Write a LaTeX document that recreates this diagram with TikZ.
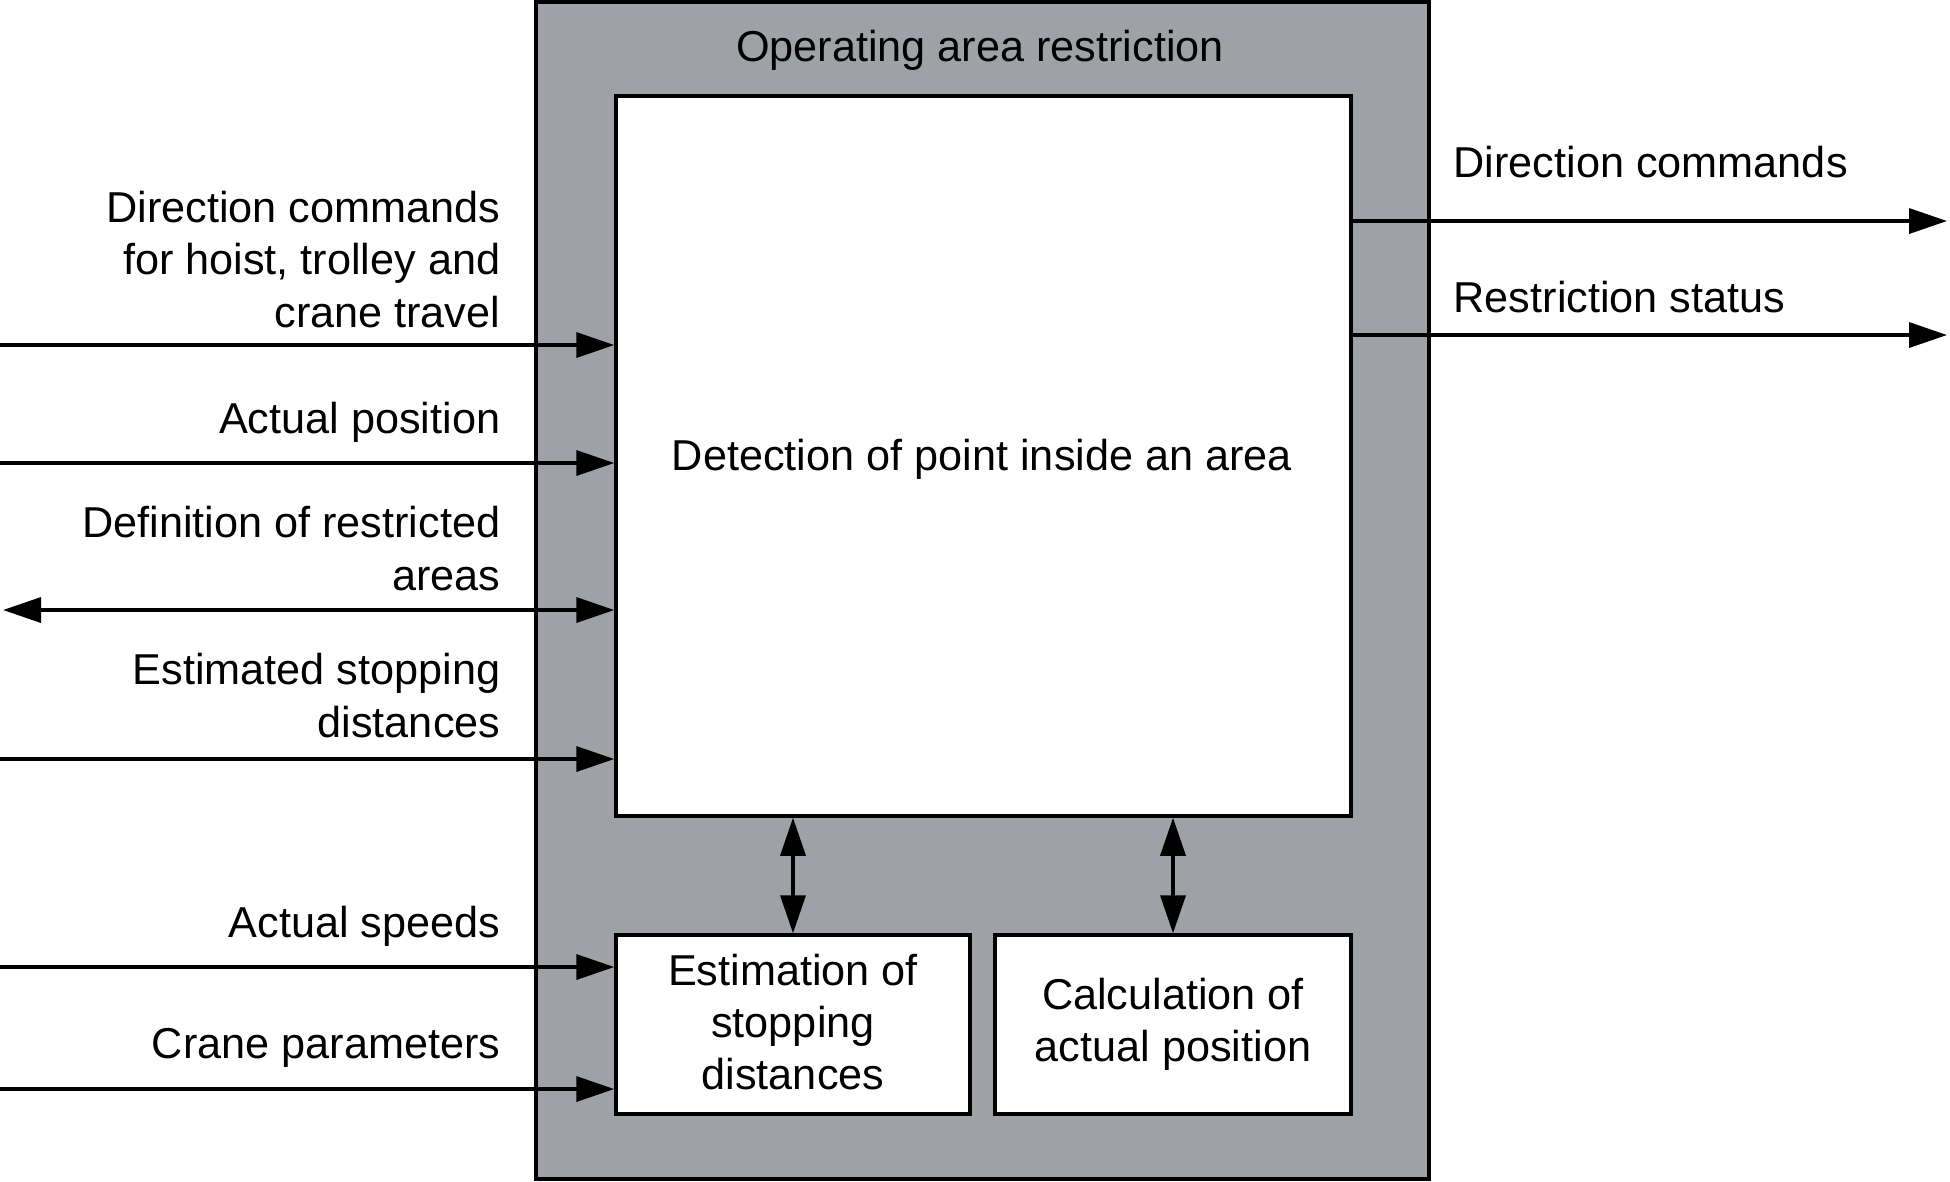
\documentclass[tikz,border=0pt]{standalone}
\usepackage{fontspec}
\setmainfont{Liberation Sans}
\usepackage{xcolor}
\usetikzlibrary{arrows.meta, positioning, calc}
\definecolor{areagray}{RGB}{158,161,166}
\tikzset{
	every node/.style={
		align=center,
		font=\fontsize{12.3pt}{14.9pt}\selectfont,
	},
}
\tikzstyle{block} = [draw, line width=1pt, fill=white, inner sep=0pt]
\tikzstyle{sig} = [line width=1pt, -{Triangle[length=3.8mm,width=2.5mm]}]
\tikzstyle{sigboth} = [line width=1pt, {Triangle[length=3.8mm,width=2.5mm]}-{Triangle[length=3.8mm,width=2.5mm]}]
\tikzstyle{inlabel} = [anchor=base east, inner sep=0pt, align=right]
\tikzstyle{outlabel} = [anchor=base west, inner sep=0pt, align=left]

\begin{document}
\begin{tikzpicture}[x=0.1mm, y=-0.1mm]
        \useasboundingbox (0,0) rectangle (1950,1181);
        % blocks
        \node[block, fill=areagray, minimum width=89.3mm, minimum height=117.7mm] (outer) at (982.5,590.5) {};
        \node[anchor=base, inner sep=0pt] (title) at (980,61) {Operating area restriction};
        \node[block, minimum width=73.5mm, minimum height=72mm] (detect) at (983.5,456) {};
        \node[inner sep=0pt] (detecttxt) at (982,459) {Detection of point inside an area};
        \node[block, minimum width=35.4mm, minimum height=17.9mm] (stopest) at (793,1024.5) {};
        \node[inner sep=0pt] (stopesttxt) at (793,1022) {Estimation of\\stopping\\distances};
        \node[block, minimum width=35.6mm, minimum height=17.9mm] (poscalc) at (1173,1024.5) {Calculation of\\actual position};
        \draw[sigboth] (stopest.north) -- (stopest.north |- detect.south);
        \draw[sigboth] (poscalc.north) -- (poscalc.north |- detect.south);
        % inputs
        \coordinate (dirin) at (0,345);
        \coordinate (posin) at (0,463);
        \coordinate (areain) at (3,610);
        \coordinate (distin) at (0,759);
        \coordinate (speedin) at (0,967);
        \coordinate (parin) at (0,1089);
        \draw[sig] (dirin) -- (dirin -| detect.west);
        \draw[sig] (posin) -- (posin -| detect.west);
        \draw[sigboth] (areain) -- (areain -| detect.west);
        \draw[sig] (distin) -- (distin -| detect.west);
        \draw[sig] (speedin) -- (speedin -| stopest.west);
        \draw[sig] (parin) -- (parin -| stopest.west);
        \node[inlabel] (dirlbl) at (501,327) {Direction commands\\for hoist, trolley and\\crane travel};
        \node[inlabel] (poslbl) at (501,433) {Actual position};
        \node[inlabel] (arealbl) at (501,590) {Definition of restricted\\areas};
        \node[inlabel] (distlbl) at (501,737) {Estimated stopping\\distances};
        \node[inlabel] (speedlbl) at (501,937) {Actual speeds};
        \node[inlabel] (parlbl) at (501,1058) {Crane parameters};
        % outputs
        \coordinate (dirout) at (1947,221);
        \coordinate (statout) at (1947,335);
        \draw[sig] (dirout -| detect.east) -- (dirout);
        \draw[sig] (statout -| detect.east) -- (statout);
        \node[outlabel] (dirolbl) at (1453,177) {Direction commands};
        \node[outlabel] (statlbl) at (1453,312) {Restriction status};
\end{tikzpicture}
\end{document}
